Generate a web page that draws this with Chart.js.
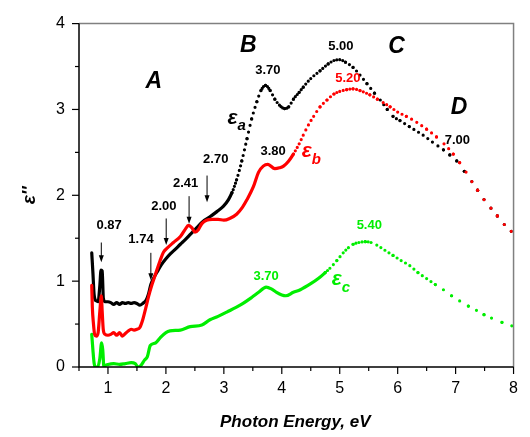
<!DOCTYPE html>
<html>
<head>
<meta charset="utf-8">
<script src="https://cdn.jsdelivr.net/npm/chart.js@4.4.1/dist/chart.umd.min.js"></script>
<style>
  html, body { margin: 0; padding: 0; background: #fff; }
  #wrap { width: 530px; height: 437px; }
</style>
</head>
<body>
<div id="wrap"><canvas id="chart" width="530" height="437"></canvas></div>
<script>
// Werte (Photonenenergie in eV, eps'')
const energyA = [0.72, 0.74, 0.76, 0.78, 0.80, 0.83, 0.86, 0.88, 0.90, 0.92, 0.95, 1.00, 1.05, 1.10, 1.15, 1.20, 1.25, 1.30, 1.35, 1.40, 1.45, 1.50, 1.55, 1.60, 1.66, 1.70, 1.74, 1.80, 1.86, 1.92, 2.00, 2.08, 2.16, 2.25, 2.33, 2.43, 2.53, 2.63, 2.76, 2.88, 2.99, 3.08, 3.14, 3.22, 3.31, 3.40, 3.48, 3.57, 3.64, 3.72, 3.80, 3.88, 3.96, 4.05, 4.12, 4.20, 4.30, 4.37, 4.50, 4.66, 4.80, 4.90, 5.00, 5.10, 5.23, 5.35, 5.47, 5.60, 5.70, 5.82, 5.92, 6.04, 6.20, 6.44, 6.60, 6.79, 6.90, 7.02, 7.15, 7.28, 7.38, 7.49, 7.61, 7.72, 7.84, 7.96];
const epsA = [1.33, 1.10, 0.85, 0.78, 0.77, 0.76, 0.95, 1.13, 1.12, 0.80, 0.76, 0.76, 0.75, 0.73, 0.75, 0.73, 0.75, 0.74, 0.75, 0.74, 0.75, 0.74, 0.72, 0.74, 0.78, 0.85, 0.96, 1.05, 1.12, 1.19, 1.26, 1.32, 1.37, 1.43, 1.48, 1.55, 1.62, 1.69, 1.75, 1.81, 1.87, 1.95, 2.03, 2.18, 2.40, 2.66, 2.89, 3.09, 3.22, 3.28, 3.22, 3.12, 3.05, 3.01, 3.03, 3.12, 3.20, 3.26, 3.36, 3.45, 3.53, 3.57, 3.58, 3.55, 3.49, 3.40, 3.30, 3.19, 3.11, 3.00, 2.92, 2.87, 2.80, 2.70, 2.62, 2.53, 2.47, 2.40, 2.28, 2.16, 2.06, 1.95, 1.85, 1.76, 1.66, 1.58];

const energyB = [0.72, 0.73, 0.75, 0.77, 0.80, 0.83, 0.86, 0.885, 0.90, 0.92, 0.95, 1.00, 1.05, 1.10, 1.15, 1.20, 1.25, 1.30, 1.35, 1.40, 1.45, 1.50, 1.55, 1.60, 1.65, 1.70, 1.76, 1.82, 1.90, 1.96, 2.03, 2.13, 2.25, 2.33, 2.39, 2.45, 2.50, 2.56, 2.62, 2.70, 2.80, 2.90, 3.00, 3.10, 3.22, 3.32, 3.40, 3.51, 3.60, 3.68, 3.76, 3.88, 3.96, 4.03, 4.12, 4.20, 4.30, 4.37, 4.46, 4.55, 4.66, 4.78, 4.90, 5.00, 5.12, 5.23, 5.35, 5.52, 5.65, 5.75, 5.87, 6.00, 6.15, 6.33, 6.50, 6.67, 6.80, 6.96, 7.07, 7.18, 7.28, 7.38, 7.49, 7.61, 7.72, 7.84, 7.96];
const epsB = [0.95, 0.70, 0.50, 0.38, 0.36, 0.40, 0.65, 0.83, 0.65, 0.43, 0.38, 0.37, 0.38, 0.40, 0.37, 0.40, 0.36, 0.39, 0.42, 0.44, 0.43, 0.44, 0.46, 0.55, 0.68, 0.82, 0.96, 1.08, 1.24, 1.34, 1.39, 1.45, 1.52, 1.60, 1.65, 1.62, 1.57, 1.60, 1.67, 1.71, 1.72, 1.72, 1.71, 1.73, 1.78, 1.86, 1.95, 2.10, 2.27, 2.34, 2.36, 2.31, 2.32, 2.34, 2.40, 2.48, 2.60, 2.70, 2.82, 2.92, 3.03, 3.11, 3.18, 3.21, 3.23, 3.24, 3.22, 3.17, 3.12, 3.08, 3.03, 2.97, 2.92, 2.85, 2.77, 2.68, 2.60, 2.48, 2.38, 2.27, 2.16, 2.06, 1.95, 1.85, 1.76, 1.66, 1.58];

const energyC = [0.72, 0.74, 0.76, 0.78, 0.80, 0.82, 0.86, 0.89, 0.91, 0.93, 0.96, 1.00, 1.10, 1.20, 1.30, 1.40, 1.47, 1.52, 1.57, 1.63, 1.68, 1.73, 1.82, 1.90, 2.00, 2.07, 2.25, 2.42, 2.62, 2.76, 2.90, 3.05, 3.28, 3.48, 3.60, 3.73, 3.82, 3.91, 4.00, 4.07, 4.20, 4.32, 4.50, 4.63, 4.75, 4.83, 4.95, 5.06, 5.15, 5.23, 5.33, 5.44, 5.54, 5.64, 5.78, 5.92, 6.06, 6.21, 6.35, 6.50, 6.65, 6.79, 6.93, 7.07, 7.22, 7.36, 7.49, 7.62, 7.80, 7.97];
const epsC = [0.38, 0.20, 0.05, 0.00, 0.00, 0.00, 0.10, 0.28, 0.20, 0.00, 0.02, 0.03, 0.04, 0.03, 0.04, 0.05, 0.04, 0.00, 0.02, 0.08, 0.12, 0.25, 0.28, 0.34, 0.40, 0.42, 0.43, 0.47, 0.49, 0.55, 0.59, 0.64, 0.72, 0.81, 0.87, 0.93, 0.91, 0.87, 0.84, 0.83, 0.87, 0.90, 0.97, 1.03, 1.10, 1.15, 1.24, 1.33, 1.39, 1.43, 1.45, 1.46, 1.45, 1.42, 1.36, 1.30, 1.24, 1.18, 1.10, 1.03, 0.96, 0.90, 0.83, 0.77, 0.71, 0.66, 0.61, 0.57, 0.52, 0.48];

const xTickLabels = [1, 2, 3, 4, 5, 6, 7, 8];
const yTickLabels = [0, 1, 2, 3, 4];

// Beschriftungen im Diagramm (Datenkoordinaten)
const notes = [
    {text: "A", x: 1.79, y: 3.32, color: "#000", big: true},
    {text: "B", x: 3.42, y: 3.74, color: "#000", big: true},
    {text: "C", x: 5.98, y: 3.73, color: "#000", big: true},
    {text: "D", x: 7.06, y: 3.02, color: "#000", big: true},
    {text: "0.87", x: 1.02, y: 1.65, color: "#000"},
    {text: "1.74", x: 1.57, y: 1.49, color: "#000"},
    {text: "2.00", x: 1.965, y: 1.87, color: "#000"},
    {text: "2.41", x: 2.34, y: 2.14, color: "#000"},
    {text: "2.70", x: 2.86, y: 2.42, color: "#000"},
    {text: "3.70", x: 3.76, y: 3.46, color: "#000"},
    {text: "3.80", x: 3.85, y: 2.51, color: "#000"},
    {text: "5.00", x: 5.02, y: 3.73, color: "#000"},
    {text: "7.00", x: 7.03, y: 2.64, color: "#000"},
    {text: "5.20", x: 5.14, y: 3.36, color: "#ff0000"},
    {text: "3.70", x: 3.73, y: 1.06, color: "#00ee00"},
    {text: "5.40", x: 5.51, y: 1.65, color: "#00ee00"},
];
const epsNotes = [
    {sub: "a", x: 3.15, y: 2.90, color: "#000"},
    {sub: "b", x: 4.43, y: 2.51, color: "#ff0000"},
    {sub: "c", x: 4.95, y: 1.02, color: "#00ee00"},
];
const arrows = [
    {x: 0.885, y0: 1.45, y1: 1.22},
    {x: 1.74, y0: 1.33, y1: 1.01},
    {x: 2.005, y0: 1.73, y1: 1.42},
    {x: 2.40, y0: 1.99, y1: 1.67},
    {x: 2.71, y0: 2.23, y1: 1.92},
];

const FONT = 'Arial, "Liberation Sans", sans-serif';
Chart.defaults.font.family = FONT;

function points(xs, ys) {
    return xs.map((v, i) => ({x: v, y: ys[i]}));
}

// Punktlinie: Abstand der Punkte wächst mit der Energie
function dotted(xs, solidUntil) {
    return function (ctx) {
        const x0 = xs[ctx.p0DataIndex], x1 = xs[ctx.p1DataIndex];
        if (x0 < solidUntil) return undefined;
        const len = Math.hypot(ctx.p1.x - ctx.p0.x, ctx.p1.y - ctx.p0.y);
        const xm = (x0 + x1) / 2;
        const n = Math.max(1, Math.round((x1 - x0) / (0.0022 * xm * xm)));
        return [0, len / n];
    };
}

function series(xs, ys, color, solidUntil, order) {
    return {
        data: points(xs, ys),
        borderColor: color,
        backgroundColor: color,
        borderWidth: 3.2,
        borderCapStyle: "round",
        borderJoinStyle: "round",
        pointRadius: 0,
        cubicInterpolationMode: "monotone",
        order: order,
        segment: {borderDash: dotted(xs, solidUntil)},
    };
}

const decor = {
    id: "decor",
    afterDraw(chart) {
        const {ctx, chartArea: a, scales: {x, y}} = chart;
        ctx.save();
        // Rahmen
        ctx.lineWidth = 1.5;
        ctx.strokeStyle = "#808080";
        ctx.beginPath();
        ctx.moveTo(a.left, a.top); ctx.lineTo(a.right, a.top); ctx.lineTo(a.right, a.bottom);
        ctx.stroke();
        ctx.strokeStyle = "#000";
        ctx.beginPath();
        ctx.moveTo(a.left, a.top); ctx.lineTo(a.left, a.bottom); ctx.lineTo(a.right, a.bottom);
        ctx.stroke();
        // Ticks
        ctx.lineWidth = 1.2;
        for (let i = 1; i <= 16; i++) {
            const px = x.getPixelForValue(i / 2);
            const l = i % 2 == 0 ? 7 : 4;
            ctx.beginPath(); ctx.moveTo(px, a.bottom); ctx.lineTo(px, a.bottom + l); ctx.stroke();
        }
        for (let i = 0; i <= 8; i++) {
            const py = y.getPixelForValue(i / 2);
            const l = i % 2 == 0 ? 7 : 4;
            ctx.beginPath(); ctx.moveTo(a.left, py); ctx.lineTo(a.left - l, py); ctx.stroke();
        }
        // Pfeile
        ctx.lineWidth = 1;
        ctx.fillStyle = "#000";
        arrows.forEach(ar => {
            const px = x.getPixelForValue(ar.x);
            const p0 = y.getPixelForValue(ar.y0), p1 = y.getPixelForValue(ar.y1);
            ctx.beginPath(); ctx.moveTo(px, p0); ctx.lineTo(px, p1 - 5); ctx.stroke();
            ctx.beginPath(); ctx.moveTo(px - 2.5, p1 - 7); ctx.lineTo(px + 2.5, p1 - 7); ctx.lineTo(px, p1); ctx.closePath(); ctx.fill();
        });
        // Texte
        ctx.textAlign = "center";
        ctx.textBaseline = "middle";
        notes.forEach(n => {
            ctx.font = n.big ? "italic bold 23px " + FONT : "bold 13px " + FONT;
            ctx.fillStyle = n.color;
            ctx.fillText(n.text, x.getPixelForValue(n.x), y.getPixelForValue(n.y));
        });
        epsNotes.forEach(n => {
            const px = x.getPixelForValue(n.x), py = y.getPixelForValue(n.y);
            ctx.fillStyle = n.color;
            ctx.font = "italic bold 21px " + FONT;
            const w = ctx.measureText("\u03b5").width;
            ctx.textAlign = "center";
            ctx.fillText("\u03b5", px, py);
            ctx.font = "italic bold 15px " + FONT;
            ctx.textAlign = "left";
            ctx.fillText(n.sub, px + w / 2, py + 8);
        });
        // Achsentitel
        ctx.fillStyle = "#000";
        ctx.textAlign = "center";
        ctx.font = "italic bold 17px " + FONT;
        ctx.fillText("Photon Energy, eV", (a.left + a.right) / 2 - 1, a.bottom + 55);
        ctx.translate(a.left - 49, (a.top + a.bottom) / 2);
        ctx.rotate(-Math.PI / 2);
        ctx.font = "italic bold 19px " + FONT;
        ctx.fillText("\u03b5''", 0, 0);
        ctx.restore();
    }
};

new Chart(document.getElementById("chart"), {
    type: "line",
    data: {
        datasets: [
            series(energyA, epsA, "#000000", 3.1, 1),
            series(energyB, epsB, "#ff0000", 4.2, 0),
            series(energyC, epsC, "#00ee00", 4.7, 2),
        ],
    },
    options: {
        responsive: false,
        animation: false,
        layout: {padding: {top: 11, right: 16, left: 0, bottom: 0}},
        plugins: {legend: {display: false}, tooltip: {enabled: false}},
        scales: {
            x: {
                type: "linear",
                min: 0.5,
                max: 8,
                afterFit: s => { s.height = 70; },
                afterBuildTicks: s => { s.ticks = xTickLabels.map(v => ({value: v})); },
                grid: {display: false, drawTicks: false},
                border: {display: false},
                ticks: {color: "#000", font: {size: 16}, padding: 12, maxRotation: 0},
            },
            y: {
                min: 0,
                max: 4,
                afterFit: s => { s.width = 79; },
                afterBuildTicks: s => { s.ticks = yTickLabels.map(v => ({value: v})); },
                grid: {display: false, drawTicks: false},
                border: {display: false},
                ticks: {color: "#000", font: {size: 16}, padding: 14},
            },
        },
    },
    plugins: [decor],
});
</script>
</body>
</html>
